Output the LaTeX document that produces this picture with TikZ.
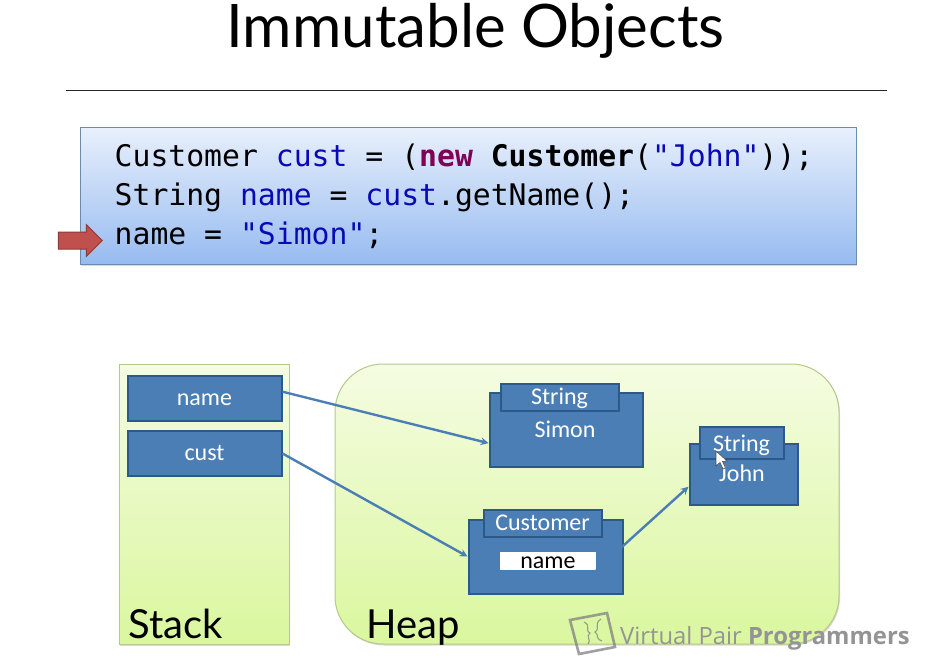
\documentclass[tikz,border=0pt]{standalone}
\usepackage{fontspec}
\usepackage{xcolor}
\setmainfont{Carlito}
\newfontfamily\titlefont{Lato}
\newfontfamily\codefont{DejaVu Sans Mono}
\newfontfamily\markfont{Open Sans}
\usetikzlibrary{shapes,arrows,positioning,shadows}
\definecolor{boxblue}{HTML}{4A7EB5}
\definecolor{boxedge}{HTML}{2C5A88}
\definecolor{linkblue}{HTML}{4A7EB5}
\definecolor{kwblue}{HTML}{0A0AB4}
\definecolor{kwpurple}{HTML}{7F0055}
\definecolor{panelTop}{HTML}{E8F0FC}
\definecolor{panelBot}{HTML}{97BBF0}
\definecolor{areaTop}{HTML}{F5FCE2}
\definecolor{areaBot}{HTML}{DAF79E}
\definecolor{areaEdge}{HTML}{B4C98A}
\definecolor{arrowFill}{HTML}{C0504D}
\definecolor{arrowEdge}{HTML}{8C3A38}

\begin{document}
\begin{tikzpicture}[
    x=1pt, y=-1pt,
    area/.style={draw=areaEdge, line width=1pt, top color=areaTop, bottom color=areaBot, drop shadow={shadow xshift=1pt, shadow yshift=-1.5pt, opacity=0.3}},
    objbox/.style={draw=boxedge, line width=2pt, fill=boxblue, text=white, inner sep=0pt, text height=14pt, text depth=0pt, font=\fontsize{24}{26}\selectfont},
    objtext/.style={inner sep=0pt, text=white, text height=14pt, text depth=0pt, font=\fontsize{24}{26}\selectfont},
    codeline/.style={anchor=base west, inner sep=0pt, font=\codefont\fontsize{29.75}{32}\selectfont},
    arealabel/.style={anchor=base west, inner sep=0pt, font=\titlefont\fontsize{40}{44}\selectfont},
    link/.style={->, >=stealth, draw=linkblue, line width=2.4pt},
    markline/.style={draw=black!50, opacity=0.75}
]
\useasboundingbox (0,0) rectangle (929,659);

% Title
\node[anchor=base, inner sep=0pt, font=\titlefont\fontsize{60}{64}\selectfont] (title) at (475.5,47) {Immutable Objects};
\coordinate (ruleL) at (66,90);
\coordinate (ruleR) at (887,90);
\draw[line width=1pt, black!85] (ruleL) -- (ruleR);

% Code panel
\node[draw=boxedge!70, line width=1pt, top color=panelTop, bottom color=panelBot, minimum width=776pt, minimum height=137pt, inner sep=0pt, drop shadow={shadow xshift=1pt, shadow yshift=-1.5pt, opacity=0.3}] (panel) at (468,195.5) {};
\node[codeline] (line1) at (114.5,166) {Customer \textcolor{kwblue}{cust} = (\textcolor{kwpurple}{\bfseries new} \textbf{Customer}(\textcolor{kwblue}{"John"}));};
\node[codeline] (line2) at (114.5,205) {String \textcolor{kwblue}{name} = \textcolor{kwblue}{cust}.getName();};
\node[codeline] (line3) at (114.5,244) {name = \textcolor{kwblue}{"Simon"};};
\node[single arrow, draw=arrowEdge, line width=1pt, fill=arrowFill, inner sep=8pt, minimum width=31pt, minimum height=44pt, single arrow head extend=7.5pt, single arrow head indent=0pt] (pointer) at (76,240.5) {};

% Stack and heap
\node[area, minimum width=170pt, minimum height=280pt, inner sep=0pt] (stack) at (204,504) {};
\node[area, rounded corners=48pt, minimum width=504pt, minimum height=280pt, inner sep=0pt] (heap) at (587,504) {};
\node[arealabel] (stackLabel) at (128,638) {Stack};
\node[arealabel] (heapLabel) at (366,638) {Heap};

% Stack variables
\node[objbox, minimum width=154pt, minimum height=45pt] (nameVar) at (204.5,398.5) {name};
\node[objbox, minimum width=154pt, minimum height=45pt] (custVar) at (204.5,453.5) {cust};

% Heap objects
\node[objbox, minimum width=153pt, minimum height=74pt] (simonBody) at (566,429.5) {};
\node[objbox, minimum width=118pt, minimum height=27pt] (simonTab) at (559.5,397) {String};
\node[objtext] (simonText) at (565,430) {Simon};

\node[objbox, minimum width=108pt, minimum height=61pt] (johnBody) at (743.5,474) {};
\node[objbox, minimum width=84pt, minimum height=32pt] (johnTab) at (741.5,442.5) {};
\node[objtext] (johnType) at (741.5,444) {String};
\node[objtext] (johnText) at (742,474) {John};

\node[objbox, minimum width=154pt, minimum height=74pt] (custBody) at (545.5,556.5) {};
\node[objbox, minimum width=118pt, minimum height=27pt] (custTab) at (542.5,523.5) {Customer};
\node[fill=white, text=black, inner sep=0pt, minimum width=96pt, minimum height=18pt, text height=14pt, text depth=0pt, font=\fontsize{24}{26}\selectfont] (nameField) at (548,561) {name};

% References
\draw[link] (nameVar.5) -- (simonBody.190);
\draw[link] (custVar.east) -- (custBody.west);
\draw[link] (nameField.south east) -- (johnBody.193);

% Mouse pointer
\draw[fill=white, draw=black!70, line width=0.6pt] (716,451) -- (716,466) -- (720,462.5) -- (723,469) -- (725.5,468) -- (722.5,461.5) -- (727,461) -- cycle;

% Watermark
\draw[markline, line width=2.6pt] (570,620) -- (607,613) -- (615,647) -- (579,654) -- cycle;
\draw[markline, line width=1.1pt] (584,622) .. controls (592,626) and (584,630) .. (590,633) .. controls (585,636) and (592,640) .. (588,644);
\draw[markline, line width=1.1pt] (601,619) .. controls (593,624) and (601,628) .. (595,632) .. controls (600,635) and (594,638) .. (602,641);
\node[anchor=base west, inner sep=0pt, text=black!42, font=\markfont\fontsize{23.8}{26}\selectfont] (watermark) at (620,644) {Virtual Pair \textbf{Programmers}};
\end{tikzpicture}
\end{document}
